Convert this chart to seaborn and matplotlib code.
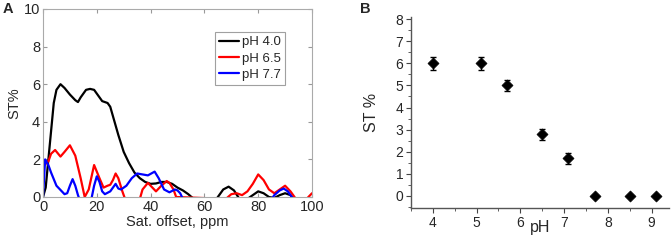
import numpy as np
import pandas as pd
import matplotlib
matplotlib.use("Agg")
import matplotlib.pyplot as plt
from matplotlib.ticker import MultipleLocator
import seaborn as sns

# panel A: saturation transfer spectra
off_40 = [0, 1, 2, 3, 4, 5, 6.5, 8, 10, 12, 13, 14, 16, 17.5, 19, 20, 22, 24, 25, 26, 27, 28, 30, 32, 34,
          36, 38, 40, 42, 44, 46, 48, 50, 52, 54, 56, 64, 65, 67, 69, 71, 73, 76, 78, 80, 82, 84, 86, 88,
          90, 92, 93]
st_40 = [0, 0.5, 2.0, 3.5, 5.0, 5.7, 6.0, 5.8, 5.45, 5.15, 5.05, 5.3, 5.7, 5.75, 5.7, 5.5, 5.1, 5.0, 4.8,
         4.3, 3.8, 3.3, 2.4, 1.8, 1.3, 1.0, 0.8, 0.7, 0.72, 0.8, 0.8, 0.7, 0.5, 0.35, 0.15, -0.1, -0.2, 0,
         0.4, 0.55, 0.35, -0.1, -0.1, 0.1, 0.3, 0.2, 0, -0.05, 0.1, 0.2, 0.1, -0.1]

off_65 = [0.5, 2, 3, 4.5, 6.5, 8, 10, 12, 14, 15.5, 17, 19, 21, 22.5, 24, 25, 26, 27, 28, 29.5, 30.5, 36,
          37, 39, 41, 42, 44, 46, 47, 48.5, 49.5, 68, 70, 72, 74, 76, 78, 80, 82, 84, 86, 88, 90, 92, 94,
          98, 100]
st_65 = [1.7, 1.9, 2.3, 2.5, 2.15, 2.4, 2.75, 2.2, 1.0, 0.0, 0.4, 1.7, 1.0, 0.5, 0.6, 0.65, 0.9, 1.25,
         1.0, 0.3, -0.1, -0.1, 0.4, 0.75, 0.45, 0.3, 0.6, 0.85, 0.75, 0.4, 0.0, -0.1, 0.15, 0.2, 0.1, 0.3,
         0.7, 1.2, 0.9, 0.4, 0.2, 0.4, 0.6, 0.3, -0.1, -0.1, 0.2]

off_77 = [0, 0.8, 2, 3, 5, 7, 8, 9, 10, 11, 12, 13, 13.5, 18, 19, 20, 21, 22, 23, 25, 27, 28, 29, 31, 33,
          35, 37, 39, 41.5, 43, 45, 47, 49, 50, 51, 52, 85, 86, 88, 89.5, 91, 93]
st_77 = [0, 2.0, 1.7, 1.3, 0.6, 0.3, 0.15, 0.2, 0.6, 0.95, 0.6, 0.1, -0.1, -0.1, 0.6, 1.1, 0.8, 0.3,
         0.15, 0.3, 0.7, 0.45, 0.4, 0.6, 1.0, 1.25, 1.2, 1.15, 1.35, 1.0, 0.4, 0.25, 0.4, 0.35, 0.2, -0.1,
         -0.1, 0.1, 0.35, 0.45, 0.3, -0.1]

# panel B: ST% vs pH
ph = [4.0, 5.1, 5.7, 6.5, 7.1, 7.7, 8.5, 9.1]
st = [6.0, 6.0, 5.0, 2.8, 1.7, 0.0, 0.0, 0.0]
st_err = [0.3, 0.3, 0.25, 0.25, 0.25, 0.0, 0.0, 0.0]

spec = pd.concat([
    pd.DataFrame({"offset": off_40, "st": st_40, "sample": "pH 4.0"}),
    pd.DataFrame({"offset": off_65, "st": st_65, "sample": "pH 6.5"}),
    pd.DataFrame({"offset": off_77, "st": st_77, "sample": "pH 7.7"}),
])

sns.set_style("white")
plt.rcParams["font.family"] = ["Liberation Sans", "DejaVu Sans"]

fig = plt.figure(figsize=(6.72, 2.4), dpi=100)
axA = fig.add_axes([43 / 672, 1 - 197 / 240, 269 / 672, 188 / 240])
axB = fig.add_axes([411 / 672, 1 - 208 / 240, 258 / 672, 191 / 240])

# ---- A ----
sns.lineplot(data=spec, x="offset", y="st", hue="sample", sort=False, estimator=None,
             palette=["black", "#ff0000", "#0000ff"], linewidth=1.6, ax=axA)
axA.set_xlim(0, 100)
axA.set_ylim(0, 10)
axA.set_xticks([0, 20, 40, 60, 80, 100])
axA.set_yticks([0, 2, 4, 6, 8, 10])
axA.tick_params(direction="in", length=3, labelsize=10.5, color="#999999",
                top=True, right=True, bottom=True, left=True, pad=2)
for s in axA.spines.values():
    s.set_color("#aaaaaa")
    s.set_linewidth(0.8)
axA.set_xlabel("Sat. offset, ppm", fontsize=10.5, labelpad=1)
axA.set_ylabel("ST%", fontsize=10.5, labelpad=2)
leg = axA.legend(loc="upper right", bbox_to_anchor=(0.9, 0.88), fontsize=9.5, frameon=True,
                 fancybox=False, handlelength=1.5, handletextpad=0.2, borderpad=0.35,
                 labelspacing=0.3, borderaxespad=0)
leg.get_frame().set_edgecolor("#888888")
leg.get_frame().set_linewidth(0.8)
for line in leg.get_lines():
    line.set_linewidth(1.6)

# ---- B ----
axB.errorbar(ph, st, yerr=st_err, fmt="none", ecolor="black", elinewidth=1, capsize=2.5, capthick=1)
sns.scatterplot(x=ph, y=st, marker="D", color="black", s=32, edgecolor="black", ax=axB, zorder=3)
axB.set_xlim(3.5, 9.4)
axB.set_ylim(-0.55, 8.1)
axB.set_xticks([4, 5, 6, 7, 8, 9])
axB.set_yticks(range(0, 9))
axB.xaxis.set_minor_locator(MultipleLocator(0.5))
axB.yaxis.set_minor_locator(MultipleLocator(0.5))
axB.tick_params(which="major", direction="out", length=3.5, labelsize=10, color="#444444",
                bottom=True, left=True, pad=2)
axB.tick_params(which="minor", direction="out", length=2, color="#444444", bottom=True, left=True)
sns.despine(ax=axB)
for s in ["left", "bottom"]:
    axB.spines[s].set_color("#555555")
    axB.spines[s].set_linewidth(1)
axB.set_xlabel("pH", fontsize=11.5)
axB.xaxis.set_label_coords(0.5, -0.065)
axB.set_ylabel("ST %", fontsize=11.5, labelpad=12)

fig.text(3 / 672, 1 - 13 / 240, "A", fontsize=10.5, fontweight="bold")
fig.text(360 / 672, 1 - 13 / 240, "B", fontsize=10.5, fontweight="bold")

fig.savefig("out.png", dpi=100)
